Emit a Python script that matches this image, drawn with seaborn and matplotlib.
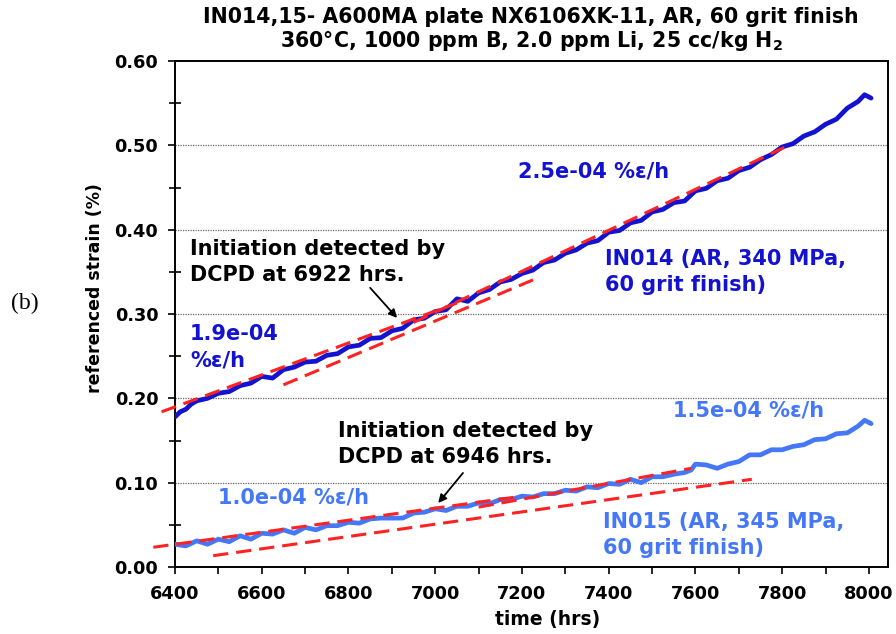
import numpy as np
import pandas as pd
import matplotlib
matplotlib.use("Agg")
import matplotlib.pyplot as plt
import seaborn as sns

# ---- data -------------------------------------------------------------
t_in014 = [6400, 6412, 6425, 6437, 6450, 6475, 6500, 6525, 6550, 6575, 6600, 6625,
           6650, 6675, 6700, 6725, 6750, 6775, 6800, 6825, 6850, 6875,
           6900, 6925, 6950, 6975, 7000, 7025, 7050, 7075, 7100, 7125,
           7150, 7175, 7200, 7225, 7250, 7275, 7300, 7325, 7350, 7375,
           7400, 7425, 7450, 7475, 7500, 7525, 7550, 7575, 7600, 7625,
           7650, 7675, 7700, 7725, 7750, 7775, 7800, 7825, 7850, 7875,
           7900, 7925, 7950, 7975, 7990, 8005]
s_in014 = [0.178, 0.184, 0.187, 0.193, 0.197, 0.200, 0.206, 0.208, 0.215, 0.218, 0.226, 0.224,
           0.234, 0.237, 0.243, 0.244, 0.251, 0.253, 0.261, 0.263, 0.271, 0.272,
           0.280, 0.283, 0.293, 0.295, 0.303, 0.305, 0.318, 0.315, 0.325, 0.329,
           0.338, 0.341, 0.348, 0.352, 0.361, 0.364, 0.372, 0.376, 0.384, 0.387,
           0.397, 0.399, 0.408, 0.411, 0.421, 0.424, 0.432, 0.434, 0.446, 0.449,
           0.458, 0.461, 0.470, 0.474, 0.483, 0.489, 0.498, 0.502, 0.511, 0.516,
           0.525, 0.531, 0.544, 0.552, 0.560, 0.556]

t_in015 = [6400, 6425, 6450, 6475, 6500, 6525, 6550, 6575, 6600, 6625,
           6650, 6675, 6700, 6725, 6750, 6775, 6800, 6825, 6850, 6875,
           6900, 6925, 6950, 6975, 7000, 7025, 7050, 7075, 7100, 7125,
           7150, 7175, 7200, 7225, 7250, 7275, 7300, 7325, 7350, 7375,
           7400, 7425, 7450, 7475, 7500, 7525, 7550, 7575, 7590, 7600,
           7625, 7650, 7675, 7700, 7725, 7750, 7775, 7800, 7825, 7850,
           7875, 7900, 7925, 7950, 7975, 7990, 8005]
s_in015 = [0.027, 0.025, 0.031, 0.027, 0.033, 0.030, 0.037, 0.033, 0.040, 0.039,
           0.044, 0.040, 0.047, 0.044, 0.049, 0.049, 0.053, 0.052, 0.057, 0.058,
           0.058, 0.058, 0.064, 0.065, 0.069, 0.067, 0.072, 0.072, 0.076, 0.075,
           0.080, 0.080, 0.084, 0.083, 0.087, 0.087, 0.091, 0.090, 0.095, 0.094,
           0.099, 0.098, 0.104, 0.100, 0.107, 0.107, 0.110, 0.112, 0.115, 0.122,
           0.121, 0.117, 0.122, 0.125, 0.133, 0.133, 0.139, 0.139, 0.143, 0.145,
           0.151, 0.152, 0.158, 0.159, 0.167, 0.174, 0.170]

# linear fits: (start time, end time), (start strain, end strain)
fit_t = [(6369, 7050), (6950, 7815), (6650, 7242),
         (6350, 7200), (7100, 7590), (6488, 7730)]
fit_s = [(0.184, 0.313), (0.290, 0.500), (0.216, 0.344),
         (0.0234, 0.084), (0.071, 0.117), (0.0134, 0.104)]

rate_labels = ["2.5e-04 %ε/h", "1.9e-04\n%ε/h", "1.5e-04 %ε/h", "1.0e-04 %ε/h"]
rate_pos = [(7191, 0.4686), (6435, 0.261), (7549, 0.186), (6499, 0.082)]
specimen_labels = ["IN014 (AR, 340 MPa,\n60 grit finish)",
                   "IN015 (AR, 345 MPa,\n60 grit finish)"]
specimen_pos = [(7392, 0.350), (7387, 0.038)]
init_labels = ["Initiation detected by\nDCPD at 6922 hrs.",
               "Initiation detected by\nDCPD at 6946 hrs."]
init_text_pos = [(6435, 0.362), (6776, 0.146)]
init_arrow_tip = [(6912, 0.2954), (7007, 0.0759)]
init_arrow_tail = [(6850, 0.331), (7064, 0.1115)]

# ---- style ------------------------------------------------------------
sns.set_style("ticks")
plt.rcParams["font.family"] = ["DejaVu Sans"]
plt.rcParams["font.weight"] = "bold"
for key in ("text.color", "axes.labelcolor", "xtick.color", "ytick.color"):
    plt.rcParams[key] = "black"

DARK = "#1212D0"
LIGHT = "#4478F8"
RED = "#FF2222"
FS = 15
LS = 1.4

fig = plt.figure(figsize=(8.96, 6.34), dpi=100)
ax = fig.add_axes([175 / 896, 1 - 567 / 634, (888 - 175) / 896, (567 - 61) / 634])

df014 = pd.DataFrame({"time": t_in014, "strain": s_in014})
df015 = pd.DataFrame({"time": t_in015, "strain": s_in015})
sns.lineplot(data=df014, x="time", y="strain", ax=ax, color=DARK, lw=3.4, zorder=3)
sns.lineplot(data=df015, x="time", y="strain", ax=ax, color=LIGHT, lw=3.4, zorder=3)

for (ta, tb), (sa, sb) in zip(fit_t, fit_s):
    sns.lineplot(x=[ta, tb], y=[sa, sb], ax=ax, color=RED, lw=2.2,
                 linestyle=(0, (5, 2.6)), clip_on=False, zorder=4)

ax.set_xlim(6400, 8044)
ax.set_ylim(0, 0.6)
ax.set_xlabel("")
ax.set_ylabel("")

ax.set_xticks(np.arange(6400, 8001, 200))
ax.set_xticks(np.arange(6400, 8001, 100), minor=True)
ax.set_yticks(np.arange(0, 0.61, 0.1))
ax.set_yticks(np.arange(0.05, 0.6, 0.1), minor=True)
ax.set_yticklabels([f"{v:.2f}" for v in np.arange(0, 0.61, 0.1)])
ax.tick_params(axis="both", which="major", labelsize=12.8, length=5, width=1.2,
               color="black", labelcolor="black", direction="out")
ax.tick_params(axis="y", which="major", pad=7)
ax.tick_params(axis="x", which="major", pad=8)
ax.tick_params(axis="x", which="minor", length=5, width=1.2, direction="out")
ax.tick_params(axis="y", which="minor", length=8, width=1.2, direction="inout")
for lab in ax.get_xticklabels() + ax.get_yticklabels():
    lab.set_fontweight("bold")

for yv in np.arange(0.1, 0.55, 0.1):
    ax.axhline(yv, color="#666666", lw=0.9, ls=(0, (1, 1)), zorder=1)

for sp in ax.spines.values():
    sp.set_color("black")
    sp.set_linewidth(1.4)

for txt, (x, y) in zip(rate_labels[:2], rate_pos[:2]):
    ax.text(x, y, txt, color=DARK, fontsize=FS, fontweight="bold", ha="left", va="center",
            linespacing=LS)
for txt, (x, y) in zip(rate_labels[2:], rate_pos[2:]):
    ax.text(x, y, txt, color=LIGHT, fontsize=FS, fontweight="bold", ha="left", va="center")
for txt, (x, y), c in zip(specimen_labels, specimen_pos, [DARK, LIGHT]):
    ax.text(x, y, txt, color=c, fontsize=FS, fontweight="bold", ha="left", va="center",
            linespacing=LS)
for txt, (x, y), tip, tail in zip(init_labels, init_text_pos, init_arrow_tip, init_arrow_tail):
    ax.text(x, y, txt, color="black", fontsize=FS, fontweight="bold", ha="left", va="center",
            linespacing=LS)
    ax.annotate("", xy=tip, xytext=tail,
                arrowprops=dict(arrowstyle="-|>", color="black", lw=1.3,
                                mutation_scale=12, shrinkA=0, shrinkB=0))

fig.text(531 / 896, 1 - 17 / 634, "IN014,15- A600MA plate NX6106XK-11, AR, 60 grit finish",
         ha="center", va="center", fontsize=14.8, fontweight="bold", color="black")
fig.text(531 / 896, 1 - 41 / 634, "360°C, 1000 ppm B, 2.0 ppm Li, 25 cc/kg H$_\\mathbf{2}$",
         ha="center", va="center", fontsize=14.8, fontweight="bold", color="black")
fig.text(95 / 896, 1 - 288 / 634, "referenced strain (%)", rotation=90,
         ha="center", va="center", fontsize=12.5, fontweight="bold", color="black")
fig.text(548 / 896, 1 - 619 / 634, "time (hrs)", ha="center", va="center",
         fontsize=13.5, fontweight="bold", color="black")
fig.text(25 / 896, 1 - 303 / 634, "(b)", ha="center", va="center",
         fontsize=17, family="Liberation Serif", fontweight="normal", color="black")

fig.savefig("out.png", dpi=100)
